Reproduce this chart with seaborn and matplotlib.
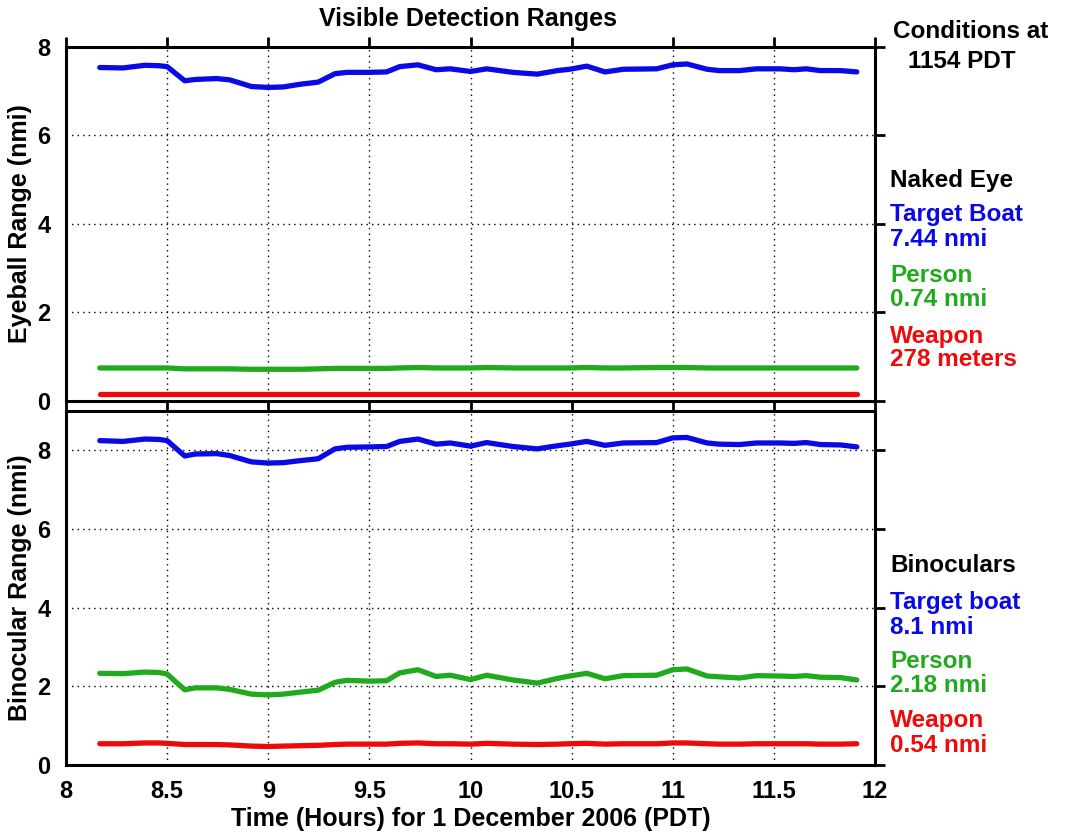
import matplotlib
matplotlib.use('Agg')
import matplotlib.pyplot as plt
import pandas as pd
import seaborn as sns

# time of day in decimal hours (1 December 2006, PDT)
hours = [8.167, 8.282, 8.39, 8.46, 8.5, 8.587, 8.64, 8.745, 8.81, 8.917,
         9.0, 9.074, 9.156, 9.247, 9.33, 9.388, 9.5, 9.585, 9.65, 9.74,
         9.83, 9.9, 10.0, 10.08, 10.21, 10.33, 10.43, 10.49, 10.575, 10.665,
         10.755, 10.92, 11.0, 11.07, 11.17, 11.23, 11.33, 11.415, 11.53, 11.6,
         11.66, 11.73, 11.83, 11.91]

# naked eye ranges (nmi)
eye_boat = [7.53, 7.52, 7.58, 7.57, 7.55, 7.23, 7.26, 7.28, 7.25, 7.10,
            7.08, 7.09, 7.15, 7.20, 7.39, 7.42, 7.42, 7.43, 7.55, 7.59,
            7.48, 7.50, 7.44, 7.50, 7.42, 7.38, 7.46, 7.49, 7.56, 7.43,
            7.49, 7.50, 7.59, 7.61, 7.49, 7.46, 7.46, 7.50, 7.50, 7.48,
            7.50, 7.46, 7.46, 7.43]
eye_person = [0.74, 0.74, 0.74, 0.74, 0.74, 0.72, 0.72, 0.72, 0.72, 0.71,
              0.71, 0.71, 0.71, 0.72, 0.73, 0.73, 0.73, 0.73, 0.74, 0.75,
              0.74, 0.74, 0.74, 0.75, 0.74, 0.74, 0.74, 0.74, 0.75, 0.74,
              0.74, 0.75, 0.75, 0.75, 0.74, 0.74, 0.74, 0.74, 0.74, 0.74,
              0.74, 0.74, 0.74, 0.74]
eye_weapon = [0.15, 0.15, 0.15, 0.15, 0.15, 0.15, 0.15, 0.15, 0.15, 0.15,
              0.15, 0.15, 0.15, 0.15, 0.15, 0.15, 0.15, 0.15, 0.15, 0.15,
              0.15, 0.15, 0.15, 0.15, 0.15, 0.15, 0.15, 0.15, 0.15, 0.15,
              0.15, 0.15, 0.15, 0.15, 0.15, 0.15, 0.15, 0.15, 0.15, 0.15,
              0.15, 0.15, 0.15, 0.15]

# binocular ranges (nmi)
bino_boat = [8.24, 8.22, 8.28, 8.27, 8.24, 7.85, 7.90, 7.91, 7.86, 7.70,
             7.67, 7.68, 7.73, 7.78, 8.03, 8.07, 8.08, 8.09, 8.22, 8.28,
             8.15, 8.18, 8.10, 8.19, 8.09, 8.03, 8.11, 8.15, 8.22, 8.12,
             8.18, 8.19, 8.31, 8.32, 8.18, 8.15, 8.14, 8.18, 8.18, 8.17,
             8.19, 8.14, 8.13, 8.08]
bino_person = [2.33, 2.32, 2.36, 2.35, 2.31, 1.91, 1.96, 1.96, 1.92, 1.80,
               1.78, 1.80, 1.85, 1.90, 2.10, 2.15, 2.13, 2.14, 2.34, 2.42,
               2.25, 2.28, 2.17, 2.28, 2.16, 2.08, 2.20, 2.26, 2.33, 2.19,
               2.27, 2.28, 2.42, 2.44, 2.26, 2.24, 2.21, 2.27, 2.26, 2.25,
               2.27, 2.23, 2.22, 2.16]
bino_weapon = [0.54, 0.54, 0.56, 0.56, 0.55, 0.52, 0.52, 0.52, 0.51, 0.48,
               0.47, 0.48, 0.49, 0.50, 0.52, 0.53, 0.53, 0.53, 0.55, 0.56,
               0.54, 0.54, 0.53, 0.55, 0.53, 0.52, 0.53, 0.54, 0.55, 0.53,
               0.54, 0.54, 0.56, 0.56, 0.54, 0.53, 0.53, 0.54, 0.54, 0.54,
               0.54, 0.53, 0.53, 0.54]

x_ticks = [8, 8.5, 9, 9.5, 10, 10.5, 11, 11.5, 12]
y_ticks = [0, 2, 4, 6, 8]

BLUE = '#0a0ae6'
GREEN = '#22aa1e'
RED = '#ee0a0a'

sns.set_style('white')
plt.rcParams['font.family'] = ['Liberation Sans', 'DejaVu Sans']
plt.rcParams['font.weight'] = 'bold'
plt.rcParams['text.color'] = 'black'
plt.rcParams['axes.labelcolor'] = 'black'

df = pd.DataFrame({'hours': hours,
                   'eye_boat': eye_boat, 'eye_person': eye_person, 'eye_weapon': eye_weapon,
                   'bino_boat': bino_boat, 'bino_person': bino_person, 'bino_weapon': bino_weapon})

W, H = 1065, 836
fig = plt.figure(figsize=(W / 100, H / 100), dpi=100)
ax1 = fig.add_axes([66 / W, 1 - 400.7 / H, 809 / W, 354 / H])
ax2 = fig.add_axes([66 / W, 1 - 765 / H, 809 / W, 354.3 / H])

for ax, prefix, ylim in [(ax1, 'eye', 8), (ax2, 'bino', 9)]:
    for col, color in [('boat', BLUE), ('person', GREEN), ('weapon', RED)]:
        sns.lineplot(data=df, x='hours', y=f'{prefix}_{col}', ax=ax,
                     color=color, linewidth=3.8)
    ax.set_xlim(8, 12)
    ax.set_ylim(0, ylim)
    ax.set_xticks(x_ticks)
    ax.set_xticklabels([f'{t:g}' for t in x_ticks])
    ax.set_yticks(y_ticks)
    ax.grid(True, linestyle=(0, (1, 3)), color='black', linewidth=1.0)
    for s in ax.spines.values():
        s.set_linewidth(2.2)
        s.set_color('black')
    ax.tick_params(direction='out', length=7, width=2, top=True, right=True,
                   labelsize=17, colors='black', pad=4)
    ax.set_xlabel('')

ax1.tick_params(labelbottom=False)
ax1.set_ylabel('Eyeball Range (nmi)', fontsize=18, fontweight='bold')
ax2.set_ylabel('Binocular Range (nmi)', fontsize=18, fontweight='bold')
ax1.yaxis.set_label_coords(-0.042, 0.5)
ax2.yaxis.set_label_coords(-0.042, 0.5)
ax2.set_xlabel('Time (Hours) for 1 December 2006 (PDT)', fontsize=18, fontweight='bold')
ax2.xaxis.set_label_coords(0.5, -0.118)

fig.text(468 / W, 1 - 19 / H, 'Visible Detection Ranges', ha='center', va='center',
         fontsize=18, fontweight='bold')


def side(y, text, color='black', ha='left', x=890):
    fig.text(x / W, 1 - y / H, text, ha=ha, va='center', color=color,
             fontsize=17.5, fontweight='bold')


side(32, 'Conditions at', ha='center', x=971)
side(61, '1154 PDT', ha='center', x=962)
side(181, 'Naked Eye')
side(215, 'Target Boat', BLUE)
side(240, '7.44 nmi', BLUE)
side(275, 'Person', GREEN)
side(300, '0.74 nmi', GREEN)
side(336, 'Weapon', RED)
side(360, '278 meters', RED)
side(566, 'Binoculars')
side(602, 'Target boat', BLUE)
side(627, '8.1 nmi', BLUE)
side(661, 'Person', GREEN)
side(686, '2.18 nmi', GREEN)
side(721, 'Weapon', RED)
side(746, '0.54 nmi', RED)

fig.savefig('out.png', dpi=100)
